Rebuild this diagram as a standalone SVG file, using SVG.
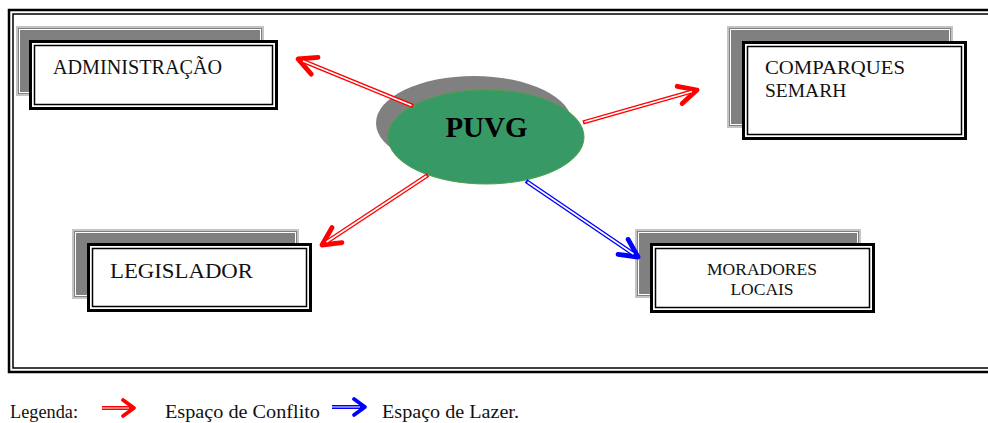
<svg xmlns="http://www.w3.org/2000/svg" width="988" height="423" viewBox="0 0 988 423">
<style>
.shadow{fill:#808080;stroke:#c4c4c4;stroke-width:2}
.shin{fill:none;stroke:#ffffff;stroke-width:1}
.outer{fill:#ffffff;stroke:#000;stroke-width:3}
.inner{fill:none;stroke:#000;stroke-width:1.5}
.red{fill:none;stroke:#ff0000;stroke-width:4.4}
.blue{fill:none;stroke:#0000ff;stroke-width:4.4}
.gap{fill:none;stroke:#ffffff;stroke-width:1.6}
</style>
<defs>
<marker id="hr" markerUnits="userSpaceOnUse" orient="auto" refX="0" refY="0" markerWidth="30" markerHeight="30" viewBox="-25 -15 30 30" overflow="visible">
<path d="M-18,-9 L0,0 L-18,9" fill="none" stroke="#ff0000" stroke-width="4.8" stroke-linecap="round" stroke-linejoin="round"/>
</marker>
<marker id="hb" markerUnits="userSpaceOnUse" orient="auto" refX="0" refY="0" markerWidth="30" markerHeight="30" viewBox="-25 -15 30 30" overflow="visible">
<path d="M-18,-9 L0,0 L-18,9" fill="none" stroke="#0000ff" stroke-width="4.8" stroke-linecap="round" stroke-linejoin="round"/>
</marker>
<marker id="lr" markerUnits="userSpaceOnUse" orient="auto" refX="0" refY="0" markerWidth="30" markerHeight="30" viewBox="-25 -15 30 30" overflow="visible">
<path d="M-11,-8 L0,0 L-11,8" fill="none" stroke="#ff0000" stroke-width="3.8" stroke-linecap="round" stroke-linejoin="round"/>
</marker>
<marker id="lb" markerUnits="userSpaceOnUse" orient="auto" refX="0" refY="0" markerWidth="30" markerHeight="30" viewBox="-25 -15 30 30" overflow="visible">
<path d="M-11,-8 L0,0 L-11,8" fill="none" stroke="#0000ff" stroke-width="3.8" stroke-linecap="round" stroke-linejoin="round"/>
</marker>
</defs>
<rect width="988" height="423" fill="#ffffff"/>
<g id="frame">
<rect x="9" y="10" width="990" height="362" fill="none" stroke="#000" stroke-width="2.5"/>
<rect x="13" y="14" width="990" height="354" fill="none" stroke="#000" stroke-width="1.5"/>
</g>
<g id="administracao">
<rect class="shadow" x="17" y="27" width="246" height="68"/>
<rect class="shin" x="19.5" y="29.5" width="241" height="63"/>
<rect class="outer" x="30.5" y="41.5" width="246" height="67"/>
<rect class="inner" x="34.5" y="45.5" width="238" height="59"/>
<text x="53" y="74" font-family="'Liberation Serif', serif" font-size="20" fill="#111" textLength="169" lengthAdjust="spacingAndGlyphs">ADMINISTRAÇÃO</text>
</g>
<g id="comparques">
<rect class="shadow" x="728" y="27" width="224" height="100"/>
<rect class="shin" x="730.5" y="29.5" width="219" height="95"/>
<rect class="outer" x="743.5" y="42.5" width="222" height="96"/>
<rect class="inner" x="747.5" y="46.5" width="214" height="88"/>
<text x="765" y="74" font-family="'Liberation Serif', serif" font-size="19.5" fill="#111" textLength="140" lengthAdjust="spacingAndGlyphs">COMPARQUES</text>
<text x="765" y="97" font-family="'Liberation Serif', serif" font-size="19.5" fill="#111">SEMARH</text>
</g>
<g id="legislador">
<rect class="shadow" x="73" y="230" width="225" height="68"/>
<rect class="shin" x="75.5" y="232.5" width="220" height="63"/>
<rect class="outer" x="88.5" y="244.5" width="222" height="66"/>
<rect class="inner" x="92.5" y="248.5" width="214" height="58"/>
<text x="110" y="278" font-family="'Liberation Serif', serif" font-size="21" fill="#111" textLength="143" lengthAdjust="spacingAndGlyphs">LEGISLADOR</text>
</g>
<g id="moradores">
<rect class="shadow" x="636" y="230" width="224" height="67"/>
<rect class="shin" x="638.5" y="232.5" width="219" height="62"/>
<rect class="outer" x="651.5" y="244.5" width="222" height="67"/>
<rect class="inner" x="655.5" y="248.5" width="214" height="59"/>
<text x="762" y="275" font-family="'Liberation Serif', serif" font-size="17.5" fill="#111" text-anchor="middle">MORADORES</text>
<text x="762" y="295" font-family="'Liberation Serif', serif" font-size="17.5" fill="#111" text-anchor="middle">LOCAIS</text>
</g>
<g id="puvg">
<ellipse cx="474" cy="123" rx="98" ry="47" fill="#808080"/>
<ellipse cx="486" cy="137" rx="98" ry="47" fill="#379966" stroke="#4aa04a" stroke-width="1"/>
<text x="486.5" y="137" font-family="'Liberation Serif', serif" font-weight="bold" font-size="29" text-anchor="middle" fill="#000">PUVG</text>
</g>
<g id="connectors">
<path class="red" d="M413,106 L298,59" marker-end="url(#hr)"/>
<path class="gap" d="M411.5,105.4 L303,61"/>
<path class="red" d="M583,122.5 L697,90" marker-end="url(#hr)"/>
<path class="gap" d="M584.5,122 L692,91.5"/>
<path class="red" d="M428,175 L322,245" marker-end="url(#hr)"/>
<path class="gap" d="M426.5,176 L326.5,242"/>
<path class="blue" d="M526,181 L638,257" marker-end="url(#hb)"/>
<path class="gap" d="M527.5,182 L633.5,254"/>
</g>
<g id="legend">
<text x="10" y="418" font-family="'Liberation Serif', serif" font-size="18" fill="#111" textLength="68" lengthAdjust="spacingAndGlyphs">Legenda:</text>
<path class="red" d="M102,408 L134,408" marker-end="url(#lr)" style="stroke-width:4"/>
<path class="gap" d="M102,408 L129,408" style="stroke-width:1.4;stroke:#ffb0b0"/>
<text x="165" y="418" font-family="'Liberation Serif', serif" font-size="18" fill="#111" textLength="155" lengthAdjust="spacingAndGlyphs">Espaço de Conflito</text>
<path class="blue" d="M332,407 L365,407" marker-end="url(#lb)" style="stroke-width:4"/>
<path class="gap" d="M332,407 L360,407" style="stroke-width:1.4;stroke:#b0b0ff"/>
<text x="382" y="418" font-family="'Liberation Serif', serif" font-size="18" fill="#111" textLength="137" lengthAdjust="spacingAndGlyphs">Espaço de Lazer.</text>
</g>
</svg>
